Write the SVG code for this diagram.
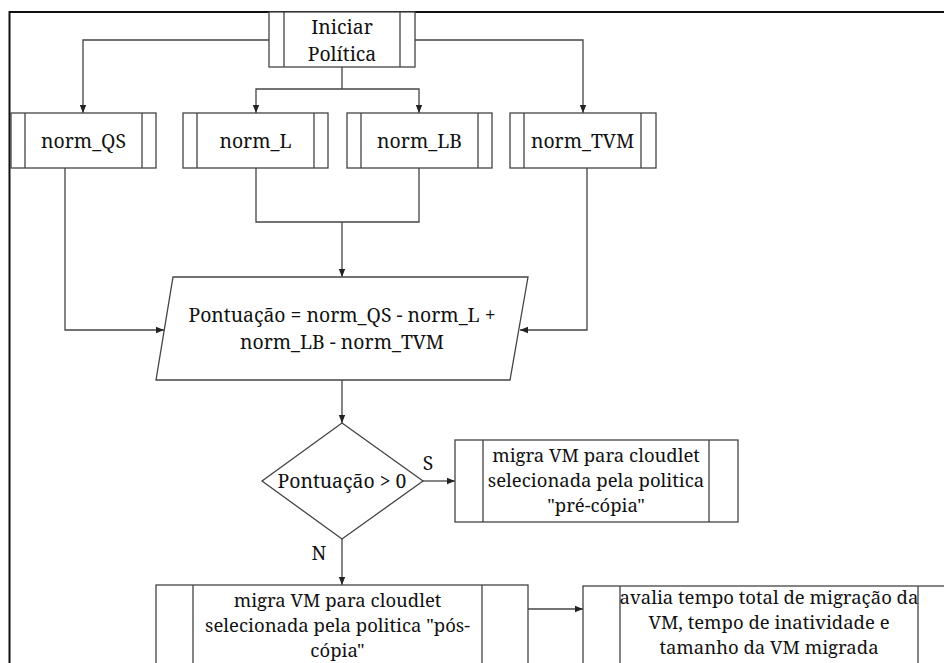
<svg xmlns="http://www.w3.org/2000/svg" width="944" height="663" viewBox="0 0 944 663">
  <defs>
    <marker id="arrow" viewBox="0 0 8 8" refX="8" refY="4" markerWidth="8" markerHeight="8" markerUnits="userSpaceOnUse" orient="auto">
      <path d="M0,0.8 L8,4 L0,7.2 Z" fill="#222"/>
    </marker>
  </defs>
  <style>
    .shape { fill: #fff; stroke: #444; stroke-width: 1.3; }
    .bar { fill: none; stroke: #444; stroke-width: 1.3; }
    .edge { fill: none; stroke: #444; stroke-width: 1.3; }
    .arrow { marker-end: url(#arrow); }
    .lbl { font-family: 'Noto Serif', 'DejaVu Serif', 'Liberation Serif', serif; font-size: 19.4px; fill: #111; text-anchor: middle; }
    .small { font-size: 18.5px; }
  </style>

  <rect x="0" y="0" width="944" height="663" fill="#fff"/>
  <!-- outer frame -->
  <path d="M9.5,675 V12 H960" fill="none" stroke="#111" stroke-width="2"/>

  <g id="connectors">
    <!-- start to the four measures -->
    <path class="edge arrow" d="M269,40 H83 V113"/>
    <path class="edge arrow" d="M415,40 H583 V113"/>
    <path class="edge" d="M342,67 V89"/>
    <path class="edge arrow" d="M342,89 H256 V113"/>
    <path class="edge arrow" d="M342,89 H419 V113"/>
    <!-- measures to score -->
    <path class="edge" d="M256,168 V222 H419 V168"/>
    <path class="edge arrow" d="M342,222 V277"/>
    <path class="edge arrow" d="M65,168 V330 H164"/>
    <path class="edge arrow" d="M587,168 V330 H520"/>
    <!-- score to decision -->
    <path class="edge arrow" d="M342,380 V423"/>
    <!-- decision branches -->
    <path class="edge arrow" d="M423,481 H455"/>
    <path class="edge arrow" d="M342,539 V585"/>
    <!-- post-copy to evaluation -->
    <path class="edge arrow" d="M528,609 H583"/>
  </g>

  <g id="iniciar">
    <rect class="shape" x="269" y="12" width="146" height="55"/>
    <path class="bar" d="M284,12 V67 M400,12 V67"/>
    <text class="lbl" x="342" y="34">Iniciar</text>
    <text class="lbl" x="342" y="60.5">Política</text>
  </g>

  <g id="norm_qs">
    <rect class="shape" x="11" y="113" width="145" height="55"/>
    <path class="bar" d="M25,113 V168 M142,113 V168"/>
    <text class="lbl" x="83.5" y="148">norm_QS</text>
  </g>

  <g id="norm_l">
    <rect class="shape" x="183" y="113" width="145" height="55"/>
    <path class="bar" d="M197,113 V168 M314,113 V168"/>
    <text class="lbl" x="255.5" y="148">norm_L</text>
  </g>

  <g id="norm_lb">
    <rect class="shape" x="347" y="113" width="145" height="55"/>
    <path class="bar" d="M361,113 V168 M478,113 V168"/>
    <text class="lbl" x="419.5" y="148">norm_LB</text>
  </g>

  <g id="norm_tvm">
    <rect class="shape" x="510" y="113" width="146" height="55"/>
    <path class="bar" d="M524,113 V168 M641,113 V168"/>
    <text class="lbl" x="582.5" y="148">norm_TVM</text>
  </g>

  <g id="pontuacao">
    <polygon class="shape" points="173,277 528,277 510,380 156,380"/>
    <text class="lbl" x="342" y="322">Pontuação = norm_QS - norm_L +</text>
    <text class="lbl" x="342" y="348.5">norm_LB - norm_TVM</text>
  </g>

  <g id="decisao">
    <polygon class="shape" points="342,423 423,481 342,539 262,481"/>
    <text class="lbl" x="342" y="488">Pontuação &gt; 0</text>
  </g>
  <text class="lbl" x="428" y="470">S</text>
  <text class="lbl" x="319" y="560">N</text>

  <g id="pre_copia">
    <rect class="shape" x="455" y="440" width="283" height="82"/>
    <path class="bar" d="M483,440 V522 M709,440 V522"/>
    <text class="lbl small" x="596" y="462">migra VM para cloudlet</text>
    <text class="lbl small" x="596" y="487.2">selecionada pela politica</text>
    <text class="lbl small" x="596" y="512.4">"pré-cópia"</text>
  </g>

  <g id="pos_copia">
    <rect class="shape" x="156" y="585" width="372" height="100"/>
    <path class="bar" d="M193,585 V685 M482,585 V685"/>
    <text class="lbl small" x="337.5" y="607">migra VM para cloudlet</text>
    <text class="lbl small" x="337.5" y="632.2">selecionada pela politica "pós-</text>
    <text class="lbl small" x="337.5" y="657.4">cópia"</text>
  </g>

  <g id="avaliacao">
    <rect class="shape" x="583" y="586" width="372" height="100"/>
    <path class="bar" d="M620,586 V686 M918,586 V686"/>
    <text class="lbl small" x="769" y="604">avalia tempo total de migração da</text>
    <text class="lbl small" x="769" y="629.2">VM, tempo de inatividade e</text>
    <text class="lbl small" x="769" y="654.4">tamanho da VM migrada</text>
  </g>
</svg>
